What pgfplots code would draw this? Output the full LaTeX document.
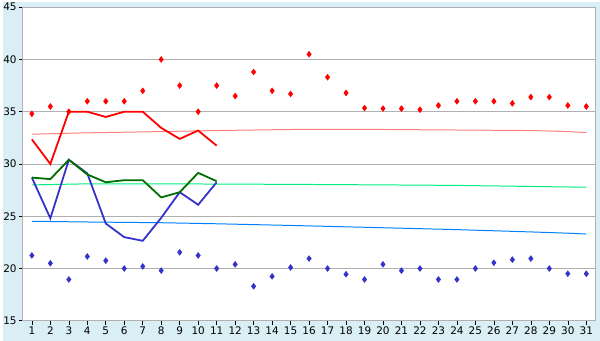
\documentclass[border=0pt]{standalone}
\usepackage{pgfplots}
\pgfplotsset{compat=1.18}
\usepackage{pgfplotstable}
\usepackage{fontspec}
\setmainfont{DejaVu Sans}
\definecolor{bgblue}{RGB}{217,238,245}
\definecolor{gridgray}{RGB}{176,176,176}
\definecolor{pinkline}{RGB}{255,128,128}
\definecolor{lgreen}{RGB}{0,240,128}
\definecolor{lblue}{RGB}{0,128,255}
\definecolor{dgreen}{RGB}{0,110,0}
\definecolor{dblue}{RGB}{51,51,204}

\pgfplotstableread{
d hi lo
1 34.8 21.25
2 35.5 20.5
3 35.0 18.95
4 36.0 21.15
5 36.0 20.75
6 36.0 20.0
7 37.0 20.2
8 40.0 19.8
9 37.5 21.55
10 35.0 21.25
11 37.5 20.0
12 36.5 20.4
13 38.8 18.3
14 37.0 19.25
15 36.7 20.1
16 40.5 20.95
17 38.3 20.0
18 36.8 19.45
19 35.35 18.95
20 35.3 20.4
21 35.3 19.8
22 35.2 20.0
23 35.6 18.95
24 36.0 18.95
25 36.0 20.0
26 36.0 20.55
27 35.8 20.85
28 36.4 20.95
29 36.4 20.0
30 35.6 19.5
31 35.5 19.5
}\extremes

\pgfplotstableread{
d red green blue
1 32.35 28.7 28.7
2 30.0 28.55 24.8
3 35.0 30.4 30.4
4 35.0 29.0 29.1
5 34.5 28.25 24.3
6 35.0 28.45 23.0
7 35.0 28.45 22.65
8 33.45 26.8 24.85
9 32.4 27.3 27.3
10 33.2 29.15 26.1
11 31.75 28.35 28.25
}\actual

\pgfplotstableread{
d pink lg lb
1 32.85 28.0 24.52
4 32.98 28.1 24.45
8 33.1 28.1 24.38
11 33.2 28.08 24.28
15 33.3 28.05 24.12
20 33.3 28.0 23.9
24 33.25 27.95 23.72
28 33.2 27.85 23.5
30 33.1 27.8 23.38
31 33.0 27.78 23.3
}\norms

\begin{document}
\begin{tikzpicture}
\fill[bgblue] (0,0) rectangle (600pt,340pt);
\begin{axis}[
  at={(20pt,20pt)}, anchor=south west,
  width=575.5pt, height=315pt, scale only axis,
  xmin=0.5, xmax=31.5, ymin=15, ymax=45,
  xtick={1,...,31}, ytick={15,20,...,45},
  axis background/.style={fill=white},
  axis line style={draw=gridgray, line width=1pt},
  ymajorgrids, grid style={draw=gridgray, line width=0.8pt},
  tick style={draw=black, line width=0.6pt},
  tick align=outside, major tick length=4pt,
  xtick pos=bottom, ytick pos=left,
  tick label style={font=\fontsize{10.5}{12}\selectfont, text=black},
  /pgf/number format/assume math mode=true,
  xticklabel style={yshift=1.5pt},
  yticklabel style={xshift=1.5pt},
  clip=false,
]
\addplot[pinkline, line width=1pt] table[x=d,y=pink] {\norms};
\addplot[lgreen, line width=1pt] table[x=d,y=lg] {\norms};
\addplot[lblue, line width=1pt] table[x=d,y=lb] {\norms};
\addplot[red, line width=1.8pt] table[x=d,y=red] {\actual};
\addplot[dblue, line width=1.8pt] table[x=d,y=blue] {\actual};
\addplot[dgreen, line width=1.8pt] table[x=d,y=green] {\actual};
\addplot[only marks, mark=diamond*, mark size=3pt, red, mark options={draw=red, fill=red}] table[x=d,y=hi] {\extremes};
\addplot[only marks, mark=diamond*, mark size=3pt, dblue, mark options={draw=dblue, fill=dblue}] table[x=d,y=lo] {\extremes};
\end{axis}
\end{tikzpicture}
\end{document}
